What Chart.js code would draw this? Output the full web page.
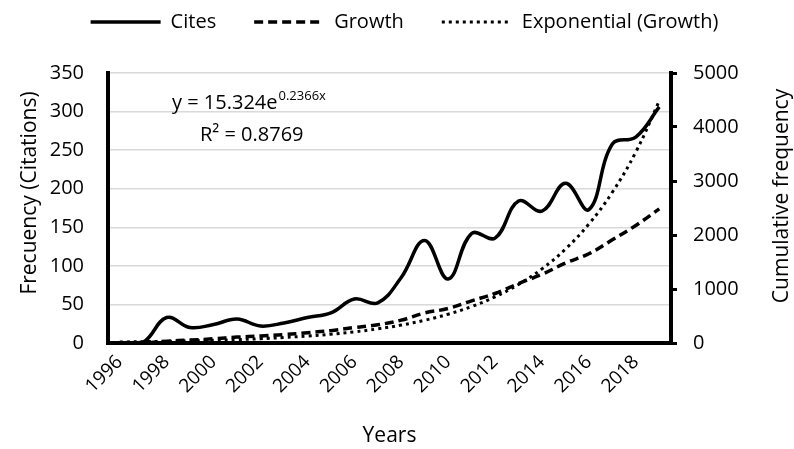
<!DOCTYPE html>
<html>
<head>
<meta charset="utf-8">
<script src="https://cdn.jsdelivr.net/npm/chart.js@4/dist/chart.umd.min.js"></script>
<style>
  html, body { margin: 0; padding: 0; background: #fff; }
  #wrap { width: 794px; height: 449px; }
</style>
</head>
<body>
<div id="wrap"><canvas id="grafica"></canvas></div>
<script>
const years = ['1996','1997','1998','1999','2000','2001','2002','2003','2004','2005','2006','2007',
               '2008','2009','2010','2011','2012','2013','2014','2015','2016','2017','2018','2019'];
const cites = [0, 1, 33, 20, 24, 31, 22, 26, 33, 39, 57, 52,
               85, 133, 83, 142, 136, 184, 171, 207, 173, 258, 267, 306];
const growth = [0, 1, 34, 54, 78, 109, 131, 157, 190, 229, 286, 338,
                423, 556, 639, 781, 917, 1101, 1272, 1479, 1652, 1910, 2177, 2483];
const trendGrowth = [19, 25, 31, 39, 50, 63, 80, 102, 129, 163, 207, 262,
                     332, 421, 533, 675, 855, 1084, 1373, 1739, 2204, 2792, 3537, 4481];
const leftTicks = [0, 50, 100, 150, 200, 250, 300, 350];
const rightTicks = [0, 1000, 2000, 3000, 4000, 5000];

const fuente = 'Open Sans';
Chart.defaults.font.family = fuente;
Chart.defaults.color = '#000';

// ecuacion de la tendencia y titulos verticales (los dos leidos de abajo a arriba)
const textos = {
    id: 'textos',
    afterDraw(chart) {
        const ctx = chart.ctx;
        ctx.save();
        ctx.fillStyle = '#000';
        ctx.textBaseline = 'alphabetic';
        ctx.textAlign = 'left';
        ctx.font = '20px "' + fuente + '"';
        const base = 'y = 15.324e';
        ctx.fillText(base, 172, 109);
        const w = ctx.measureText(base).width;
        ctx.font = '13px "' + fuente + '"';
        ctx.fillText('0.2366x', 172 + w + 1, 100);
        ctx.font = '20px "' + fuente + '"';
        ctx.fillText('R² = 0.8769', 200, 141);

        ctx.textAlign = 'center';
        ctx.textBaseline = 'middle';
        ctx.font = '21px "' + fuente + '"';
        ctx.translate(30, 193);
        ctx.rotate(-Math.PI / 2);
        ctx.fillText('Frecuency (Citations)', 0, 0);
        ctx.restore();

        ctx.save();
        ctx.fillStyle = '#000';
        ctx.textAlign = 'center';
        ctx.textBaseline = 'middle';
        ctx.font = '21px "' + fuente + '"';
        ctx.translate(782, 196);
        ctx.rotate(-Math.PI / 2);
        ctx.fillText('Cumulative frequency', 0, 0);
        ctx.restore();
    }
};

// altura fija de la leyenda para que el area del grafico empiece donde toca
const alturaLeyenda = {
    id: 'alturaLeyenda',
    beforeUpdate(chart) {
        const leyenda = chart.legend;
        if (leyenda && !leyenda._fijada) {
            const fitOriginal = leyenda.fit;
            leyenda.fit = function () {
                fitOriginal.call(this);
                this.height = 99;
            };
            leyenda._fijada = true;
        }
    }
};

new Chart(document.getElementById('grafica'), {
    type: 'line',
    data: {
        labels: years,
        datasets: [
            {
                label: 'Cites',
                data: cites,
                yAxisID: 'y',
                borderColor: '#000',
                backgroundColor: '#000',
                borderWidth: 3.5,
                pointRadius: 0,
                tension: 0.4
            },
            {
                label: 'Growth',
                data: growth,
                yAxisID: 'y1',
                borderColor: '#000',
                backgroundColor: '#000',
                borderWidth: 3.5,
                borderDash: [9, 5],
                pointRadius: 0,
                tension: 0.4
            },
            {
                label: 'Exponential (Growth)',
                data: trendGrowth,
                yAxisID: 'y1',
                borderColor: '#000',
                backgroundColor: '#000',
                borderWidth: 3,
                borderDash: [3, 4],
                pointRadius: 0,
                tension: 0.4
            }
        ]
    },
    options: {
        responsive: true,
        maintainAspectRatio: false,
        animation: false,
        layout: { padding: { left: 15, right: 0, top: -26, bottom: 0 } },
        plugins: {
            legend: {
                position: 'top',
                labels: {
                    usePointStyle: true,
                    pointStyle: 'line',
                    pointStyleWidth: 70,
                    padding: 38,
                    color: '#000',
                    font: { size: 20 },
                    generateLabels(chart) {
                        const items = Chart.defaults.plugins.legend.labels.generateLabels(chart);
                        items.forEach(item => {
                            const ds = chart.data.datasets[item.datasetIndex];
                            item.lineDash = ds.borderDash || [];
                            item.lineWidth = ds.borderWidth;
                            item.strokeStyle = '#000';
                        });
                        return items;
                    }
                }
            },
            tooltip: { enabled: false }
        },
        scales: {
            x: {
                offset: true,
                afterFit: (scale) => { scale.height = 106; },
                grid: { display: false, drawTicks: false },
                border: { color: '#000', width: 4 },
                ticks: {
                    autoSkip: false,
                    maxRotation: 45,
                    minRotation: 45,
                    padding: 8,
                    font: { size: 19 },
                    callback: function (value, index) {
                        return index % 2 === 0 ? this.getLabelForValue(value) : '';
                    }
                },
                title: { display: true, text: 'Years', font: { size: 21 }, padding: 0 }
            },
            y: {
                position: 'left',
                min: 0,
                max: 350,
                afterFit: (scale) => { scale.width = 93; },
                afterBuildTicks: (scale) => { scale.ticks = leftTicks.map(v => ({ value: v })); },
                grid: { color: '#d9d9d9', lineWidth: 1.5, drawTicks: false },
                border: { color: '#000', width: 4 },
                ticks: { padding: 24, font: { size: 20 } }
            },
            y1: {
                position: 'right',
                min: 0,
                max: 5000,
                afterFit: (scale) => { scale.width = 123; },
                afterBuildTicks: (scale) => { scale.ticks = rightTicks.map(v => ({ value: v })); },
                grid: { drawOnChartArea: false, color: '#000', lineWidth: 3, tickLength: 6 },
                border: { color: '#000', width: 4, dash: [11, 6] },
                ticks: { padding: 16, font: { size: 20 }, callback: (v) => String(v) }
            }
        }
    },
    plugins: [textos, alturaLeyenda]
});
</script>
</body>
</html>
